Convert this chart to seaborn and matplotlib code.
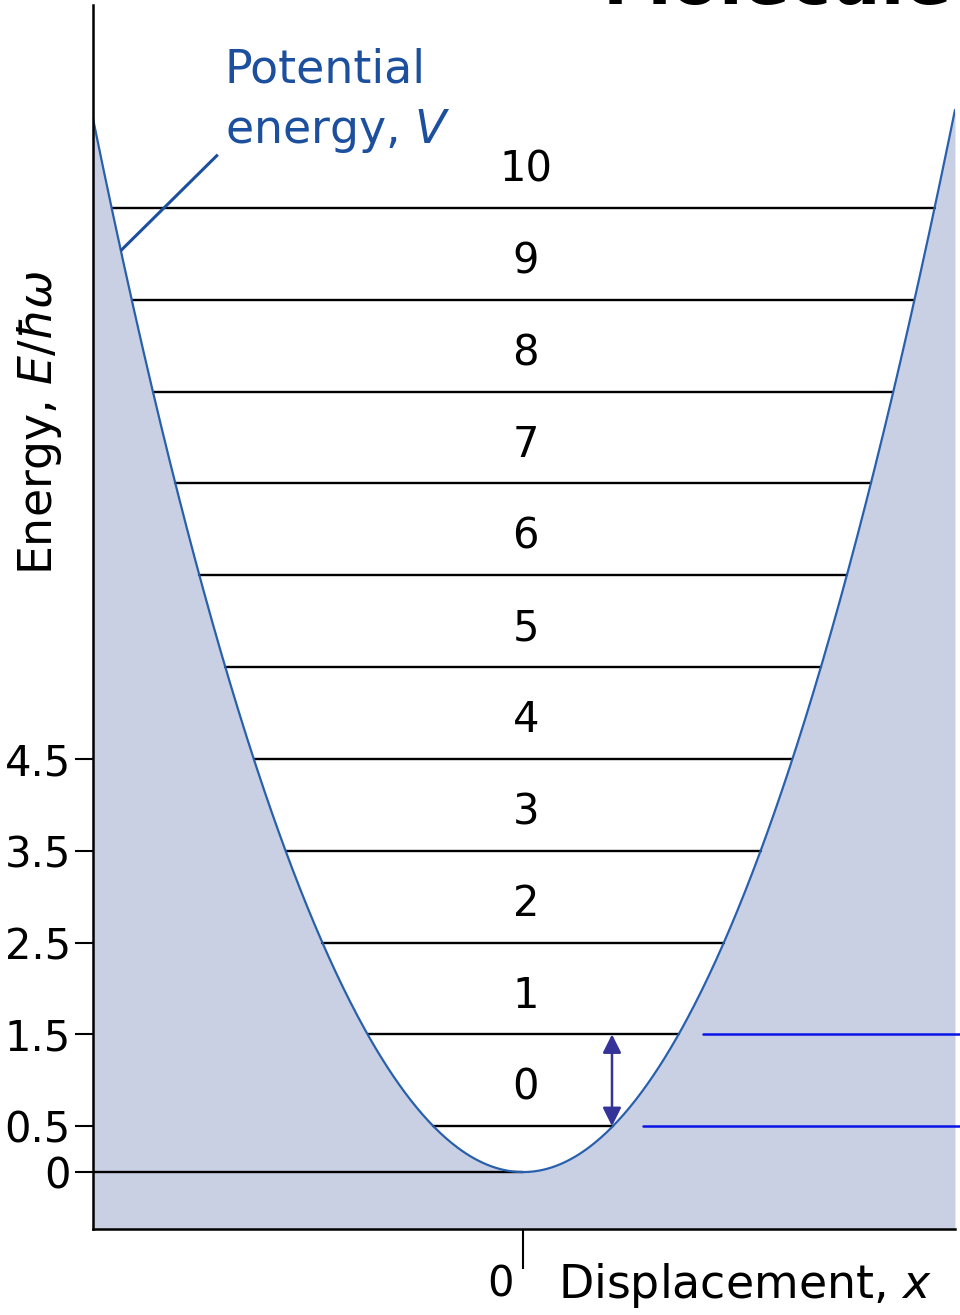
#!/usr/bin/env python3
"""Harmonic oscillator: potential energy curve with equally spaced levels.

Energies in units of hbar*omega, levels at E = v + 1/2.
Saves to out.png
"""
import sys

import matplotlib
matplotlib.use("Agg")
import matplotlib.pyplot as plt
import numpy as np
import pandas as pd
import seaborn as sns

# ── data ───────────────────────────────────────────────────────────
LEVEL_NUMBERS = [0, 1, 2, 3, 4, 5, 6, 7, 8, 9, 10]
LEVEL_ENERGIES = [0.5, 1.5, 2.5, 3.5, 4.5, 5.5, 6.5, 7.5, 8.5, 9.5, 10.5]
YTICKS = [0, 0.5, 1.5, 2.5, 3.5, 4.5]
YTICK_LABELS = ["0", "0.5", "1.5", "2.5", "3.5", "4.5"]
MARKED_LEVELS = [0.5, 1.5]          # blue markers on the right
MARKED_START = [1.33, 2.0]          # where those markers begin (x)

X_RANGE = (-4.79, 4.81)
E_RANGE = (-0.62, 12.71)

FILL = "#cad0e4"
CURVE = "#2860ad"
LABEL_BLUE = "#1c4f9e"
MARK_BLUE = "#0a14e6"
ARROW = "#333399"

sns.set_theme(style="ticks")
plt.rcParams["font.family"] = ["DejaVu Sans"]
plt.rcParams["mathtext.fontset"] = "dejavusans"


def potential(x):
    return 0.5 * x ** 2


def main():
    fig = plt.figure(figsize=(9.6, 13.15), dpi=100)
    ax = fig.add_axes([93 / 960, 1 - 1229 / 1315, 862 / 960, 1224 / 1315])

    xs = np.linspace(X_RANGE[0], X_RANGE[1], 600)
    curve = pd.DataFrame({"x": xs, "V": potential(xs)})

    ax.fill_between(curve["x"], E_RANGE[0], curve["V"], color=FILL, lw=0, zorder=1)
    sns.lineplot(data=curve, x="x", y="V", color=CURVE, lw=1.6, ax=ax, zorder=4)

    # energy levels, each spanning the well
    for n, e in zip(LEVEL_NUMBERS, LEVEL_ENERGIES):
        half = np.sqrt(2 * e)
        ax.plot([-half, half], [e, e], color="black", lw=1.7, zorder=3)
        ax.text(0.03, e + 0.42, str(n), ha="center", va="center",
                fontsize=30, color="black", zorder=5)

    # zero of energy
    ax.plot([X_RANGE[0], 0], [0, 0], color="black", lw=1.7, zorder=3)

    # blue markers for the two lowest levels
    for e, start in zip(MARKED_LEVELS, MARKED_START):
        ax.plot([start, 5.6], [e, e], color=MARK_BLUE, lw=1.8,
                clip_on=False, zorder=3)

    # spacing arrow between v=0 and v=1
    ax.annotate("", xy=(0.99, MARKED_LEVELS[0]), xytext=(0.99, MARKED_LEVELS[1]),
                arrowprops=dict(arrowstyle="<|-|>", color=ARROW, lw=1.8,
                                mutation_scale=28, shrinkA=0, shrinkB=0),
                zorder=5)

    # potential label with leader line
    lead_x = -4.48
    ax.plot([-3.40, lead_x], [11.08, potential(lead_x)], color=LABEL_BLUE,
            lw=2.2, zorder=5, solid_capstyle="butt")
    ax.text(-3.32, 11.66, "Potential\nenergy, $V$", ha="left", va="center",
            fontsize=33, color=LABEL_BLUE, linespacing=1.42)

    ax.set_xlim(*X_RANGE)
    ax.set_ylim(*E_RANGE)

    ax.set_yticks(YTICKS)
    ax.set_yticklabels(YTICK_LABELS)
    ax.set_xticks([0])
    ax.set_xticklabels([""])
    ax.tick_params(axis="y", length=13, width=1.5, pad=3, labelsize=30,
                   colors="black", direction="out")
    ax.tick_params(axis="x", length=29, width=1.5, direction="out", colors="black")

    ax.set_xlabel("")
    ax.set_ylabel("Energy, $E/\\hbar\\omega$", fontsize=33, color="black")
    ax.yaxis.set_label_coords(-0.034, 0.659)

    ax.annotate("0", xy=(0, -0.045), xycoords=("data", "axes fraction"),
                xytext=(-7, 0), textcoords="offset points",
                ha="right", va="center", fontsize=30, color="black")
    ax.annotate("Displacement, $x$", xy=(0, -0.046), xycoords=("data", "axes fraction"),
                xytext=(25, 0), textcoords="offset points",
                ha="left", va="center", fontsize=33, color="black")

    sns.despine(ax=ax, top=True, right=True)
    for side in ("left", "bottom"):
        ax.spines[side].set_color("black")
        ax.spines[side].set_linewidth(1.8)
        ax.spines[side].set_zorder(6)
    ax.set_facecolor("white")
    ax.grid(False)

    # page heading, cropped at the top edge in the source
    fig.text(603 / 960, 1 - 4 / 1315, "Molecule", ha="left", va="baseline",
             fontsize=50, fontweight="bold", color="black")

    fig.savefig("out.png", dpi=100)
    plt.close(fig)
    return 0


if __name__ == "__main__":
    sys.exit(main())
